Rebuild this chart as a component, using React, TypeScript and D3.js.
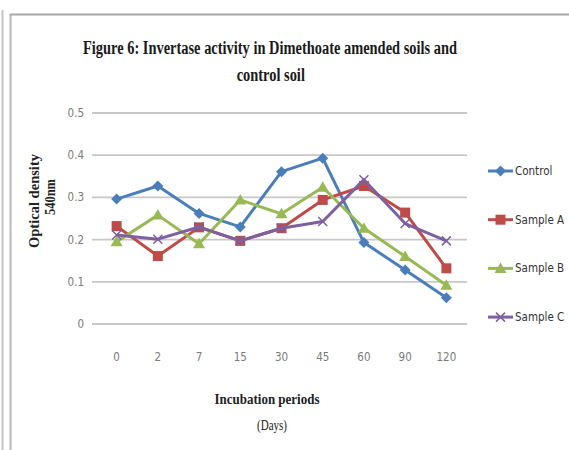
import React from "react";
import * as d3 from "d3";

const categories = ["0", "2", "7", "15", "30", "45", "60", "90", "120"];
const control = [0.296, 0.327, 0.262, 0.23, 0.361, 0.393, 0.193, 0.128, 0.062];
const sampleA = [0.232, 0.161, 0.229, 0.197, 0.227, 0.294, 0.327, 0.264, 0.132];
const sampleB = [0.195, 0.258, 0.19, 0.294, 0.261, 0.324, 0.227, 0.16, 0.092];
const sampleC = [0.211, 0.201, 0.23, 0.197, 0.227, 0.243, 0.342, 0.238, 0.197];
const yTicks = [0, 0.1, 0.2, 0.3, 0.4, 0.5];
const seriesNames = ["Control", "Sample A", "Sample B", "Sample C"];
const seriesColors = ["#4a7ebb", "#be4b48", "#98b954", "#7d60a0"];
const seriesData = [control, sampleA, sampleB, sampleC];

const W = 569, H = 450;
const plotL = 96, plotR = 467, plotT = 113, plotB = 324;

function Marker({ type, x, y, color }: { type: number; x: number; y: number; color: string }) {
  if (type === 0) {
    const s = 5.5;
    return <path d={`M${x},${y - s}L${x + s},${y}L${x},${y + s}L${x - s},${y}Z`} fill={color} />;
  }
  if (type === 1) {
    return <rect x={x - 5} y={y - 5} width={10} height={10} fill={color} />;
  }
  if (type === 2) {
    return <path d={`M${x},${y - 6}L${x + 6},${y + 4.5}L${x - 6},${y + 4.5}Z`} fill={color} />;
  }
  const s = 4.5;
  return (
    <path d={`M${x - s},${y - s}L${x + s},${y + s}M${x - s},${y + s}L${x + s},${y - s}`} stroke={color} strokeWidth={1.5} fill="none" />
  );
}

export default function App() {
  const x = d3.scaleBand<string>().domain(categories).range([plotL, plotR]);
  const y = d3.scaleLinear().domain([0, 0.5]).range([plotB, plotT]);
  const cx = (c: string) => (x(c) as number) + x.bandwidth() / 2;
  const line = d3
    .line<number>()
    .x((_, i) => cx(categories[i]))
    .y((d) => y(d));

  const tickFont = "'DejaVu Sans Condensed', 'Liberation Sans Narrow', 'Liberation Sans', sans-serif";
  const serif = "'Liberation Serif', 'DejaVu Serif', serif";

  return (
    <svg width={W} height={H} style={{ position: "absolute", left: 0, top: 0, background: "#fff" }}>
      <rect x={0} y={0} width={W} height={H} fill="#fff" />
      <line x1={2.5} y1={10} x2={2.5} y2={H} stroke="#c4c4c4" strokeWidth={2} />
      <line x1={10.5} y1={14} x2={10.5} y2={H} stroke="#b8b8b8" strokeWidth={2} />
      <line x1={10} y1={14.5} x2={W} y2={14.5} stroke="#a8a8a8" strokeWidth={2} />

      <g transform="translate(270,0) scale(0.76,1)">
        <text x={0} y={54} textAnchor="middle" fontFamily={serif} fontWeight="bold" fontSize={19} fill="#1a1a1a">
          Figure 6: Invertase activity in Dimethoate amended soils and
        </text>
        <text x={1} y={81} textAnchor="middle" fontFamily={serif} fontWeight="bold" fontSize={19} fill="#1a1a1a">
          control soil
        </text>
      </g>

      {yTicks.map((t) => (
        <g key={t}>
          <line x1={92} x2={plotR} y1={y(t)} y2={y(t)} stroke="#c8c8c8" strokeWidth={1.8} />
          <text x={84} y={y(t) + 4} textAnchor="end" fontFamily={tickFont} fontSize={11.5} fill="#7a7a7a">
            {t === 0 ? "0" : t.toFixed(1)}
          </text>
        </g>
      ))}

      {categories.map((c) => (
        <text key={c} x={cx(c)} y={361} textAnchor="middle" fontFamily={tickFont} fontSize={11.5} fill="#7a7a7a">
          {c}
        </text>
      ))}

      <g transform="translate(39,201) rotate(-90)">
        <text x={0} y={0} textAnchor="middle" fontFamily={serif} fontWeight="bold" fontSize={14} textLength={94} lengthAdjust="spacingAndGlyphs" fill="#222">
          Optical density
        </text>
        <text x={4} y={16} textAnchor="middle" fontFamily={serif} fontWeight="bold" fontSize={14} textLength={36} lengthAdjust="spacingAndGlyphs" fill="#222">
          540nm
        </text>
      </g>

      <text x={267} y={404} textAnchor="middle" fontFamily={serif} fontWeight="bold" fontSize={15} textLength={105} lengthAdjust="spacingAndGlyphs" fill="#222">
        Incubation periods
      </text>
      <text x={272} y={430} textAnchor="middle" fontFamily={serif} fontSize={14} textLength={30} lengthAdjust="spacingAndGlyphs" fill="#222">
        (Days)
      </text>

      {seriesData.map((d, si) => (
        <g key={si}>
          <path d={line(d) || ""} fill="none" stroke={seriesColors[si]} strokeWidth={3} strokeLinejoin="round" />
          {d.map((v, i) => (
            <Marker key={i} type={si} x={cx(categories[i])} y={y(v)} color={seriesColors[si]} />
          ))}
        </g>
      ))}

      {seriesNames.map((n, i) => {
        const ly = 171 + i * 48.7;
        return (
          <g key={n}>
            <line x1={488} x2={513} y1={ly} y2={ly} stroke={seriesColors[i]} strokeWidth={3} />
            <Marker type={i} x={500.5} y={ly} color={seriesColors[i]} />
            <text x={515} y={ly + 4} fontFamily={tickFont} fontSize={11.5} fill="#333">
              {n}
            </text>
          </g>
        );
      })}
    </svg>
  );
}
